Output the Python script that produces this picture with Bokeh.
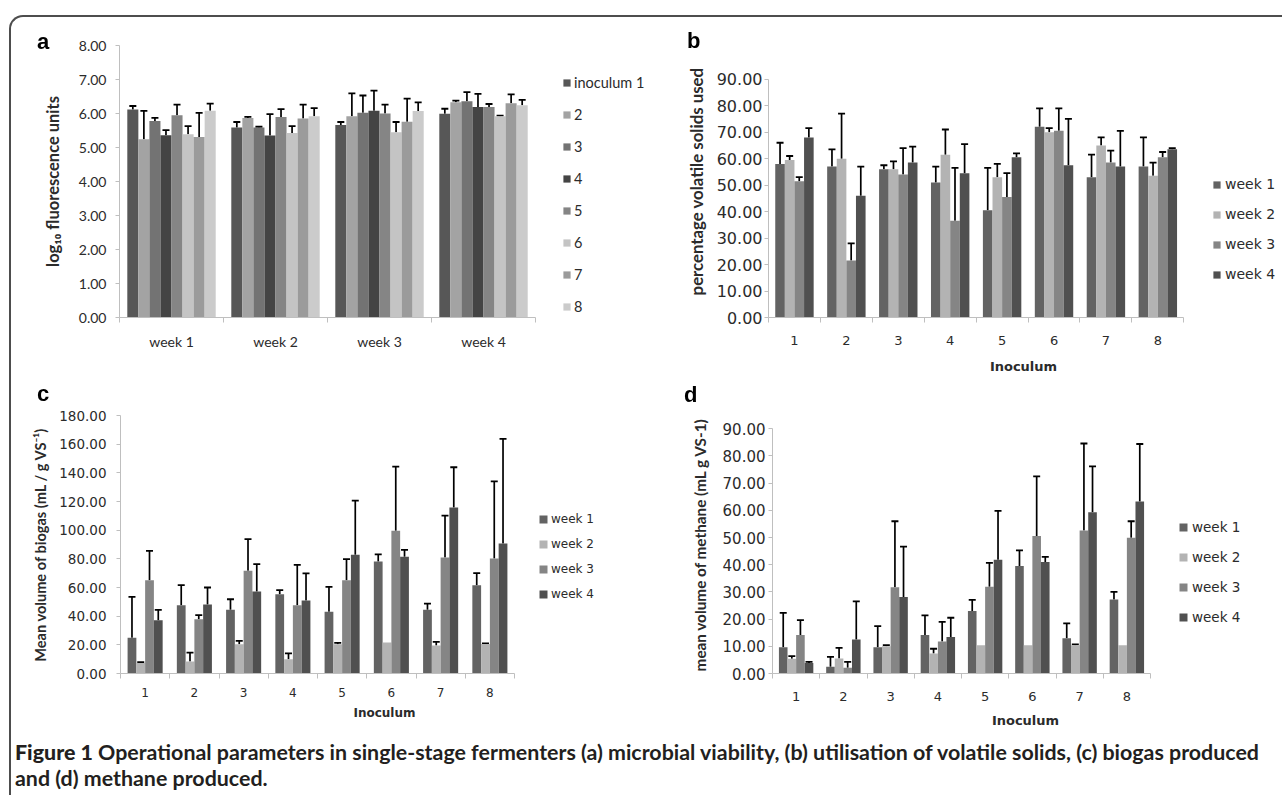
import math
from bokeh.plotting import figure
from bokeh.models import (Range1d, LinearAxis, FixedTicker,
                          NumeralTickFormatter, Whisker, TeeHead, ColumnDataSource, Div)
from bokeh.transform import dodge
from bokeh.layouts import row, column
from bokeh.embed import file_html
from bokeh.resources import INLINE

NAN = float("nan")

# ---------------- data ----------------
weeks = ["week 1", "week 2", "week 3", "week 4"]
inocula = ["1", "2", "3", "4", "5", "6", "7", "8"]

# (a) microbial viability, log10 fluorescence units: one list per inoculum over weeks 1-4
a_names = ["inoculum 1", "2", "3", "4", "5", "6", "7", "8"]
a_mean = [
    [6.12, 5.59, 5.66, 5.99],
    [5.24, 5.87, 5.92, 6.33],
    [5.78, 5.59, 6.02, 6.36],
    [5.36, 5.35, 6.08, 6.19],
    [5.95, 5.90, 6.00, 6.19],
    [5.39, 5.43, 5.45, 5.92],
    [5.31, 5.85, 5.76, 6.30],
    [6.08, 5.92, 6.07, 6.24],
]
a_sd = [
    [0.10, 0.16, 0.09, 0.15],
    [0.84, 0.03, 0.67, 0.05],
    [0.09, 0.02, 0.51, 0.27],
    [0.15, 0.63, 0.59, 0.39],
    [0.31, 0.23, 0.26, 0.09],
    [0.24, 0.20, 0.30, 0.02],
    [0.71, 0.41, 0.68, 0.26],
    [0.21, 0.24, 0.26, 0.16],
]

# (b) percentage volatile solids used: one list per week over inoculum 1-8
b_names = ["week 1", "week 2", "week 3", "week 4"]
b_mean = [
    [58.0, 57.0, 56.0, 51.0, 40.5, 72.0, 53.0, 57.0],
    [59.5, 60.0, 56.0, 61.5, 53.0, 70.0, 65.0, 53.5],
    [51.5, 21.5, 54.0, 36.5, 45.5, 70.5, 58.5, 60.5],
    [68.0, 46.0, 58.5, 54.5, 60.5, 57.5, 57.0, 63.5],
]
b_sd = [
    [8.0, 6.5, 1.5, 6.0, 16.0, 7.0, 8.5, 11.0],
    [1.5, 17.0, 3.0, 9.5, 5.0, 1.5, 3.0, 5.0],
    [1.5, 6.5, 10.0, 20.0, 9.0, 8.5, 4.5, 2.0],
    [3.5, 11.0, 6.0, 11.0, 1.5, 17.5, 13.5, 0.5],
]

# (c) mean volume of biogas (mL / g VS-1)
c_names = ["week 1", "week 2", "week 3", "week 4"]
c_mean = [
    [25.0, 47.7, 44.4, 55.3, 43.0, 78.2, 44.4, 61.6],
    [7.3, 8.3, 20.4, 9.9, 20.4, 21.6, 19.5, 20.5],
    [65.1, 37.9, 71.6, 47.7, 65.1, 99.6, 81.0, 80.3],
    [37.2, 48.1, 57.2, 50.9, 82.8, 81.4, 115.9, 90.7],
]
c_sd = [
    [28.5, 13.9, 7.4, 2.8, 17.5, 4.9, 4.4, 8.4],
    [0.7, 6.3, 2.3, 4.2, 0.9, NAN, 2.5, 0.5],
    [20.5, 2.8, 22.2, 28.1, 14.7, 44.7, 29.1, 53.8],
    [7.2, 11.9, 19.1, 18.9, 37.8, 4.9, 28.0, 73.0],
]

# (d) mean volume of methane (mL g VS-1)
d_names = ["week 1", "week 2", "week 3", "week 4"]
d_mean = [
    [9.7, 2.5, 9.7, 14.2, 23.0, 39.5, 13.0, 27.2],
    [5.4, 5.5, 10.0, 7.4, 10.4, 10.4, 10.4, 10.4],
    [14.2, 2.1, 31.7, 11.8, 31.9, 50.6, 52.6, 49.9],
    [3.9, 12.5, 28.1, 13.4, 41.8, 41.0, 59.3, 63.3],
]
d_sd = [
    [12.6, 3.6, 7.7, 7.2, 4.1, 5.8, 5.4, 2.8],
    [1.0, 3.9, 0.4, 1.7, NAN, NAN, 0.3, NAN],
    [5.4, 2.2, 24.3, 7.2, 8.8, 21.9, 32.0, 6.1],
    [0.4, 14.0, 18.6, 7.1, 18.0, 1.9, 16.9, 21.1],
]

a_colors = ["#575757", "#a3a3a3", "#737373", "#444444", "#858585", "#c4c4c4", "#9b9b9b", "#cbcbcb"]
wk_colors = ["#636363", "#b3b3b3", "#858585", "#505050"]

AX = "#bfbfbf"
TXT = "#2b2b2b"


def build(cats, names, means, sds, colors, xtop, ytop, ymax, ystep, W, H, bl, br, bt, bb, bw, s):
    N = len(cats)
    p = figure(width=W, height=H, x_range=Range1d(0, xtop), y_range=Range1d(0, ytop),
               output_backend="svg", toolbar_location=None,
               x_axis_location=None, y_axis_location=None,
               min_border_left=bl, min_border_right=br, min_border_top=bt, min_border_bottom=bb)
    p.outline_line_color = None
    p.grid.visible = False
    p.background_fill_color = None
    p.border_fill_color = None

    slot = [k + 0.5 for k in range(N)]          # centre of each category slot on the x scale
    n = len(names)
    for i in range(n):
        off = (i - (n - 1) / 2.0) * bw
        src = ColumnDataSource(dict(cat=cats, slot=slot, y=means[i]))
        p.vbar(x=dodge("slot", off), top="y", width=bw, source=src,
               fill_color=colors[i], line_color=None, legend_label=names[i])
        xs, lo, hi = [], [], []
        for c, m, e in zip(slot, means[i], sds[i]):
            if not math.isnan(e):
                xs.append(c); lo.append(m); hi.append(m + e)
        wsrc = ColumnDataSource(dict(slot=xs, lo=lo, hi=hi))
        p.add_layout(Whisker(base=dodge("slot", off), lower="lo", upper="hi", source=wsrc,
                             lower_head=None,
                             upper_head=TeeHead(size=7, line_color="black", line_width=1.8),
                             line_color="black", line_width=1.7))

    yax = LinearAxis(ticker=FixedTicker(ticks=[k * ystep for k in range(int(round(ymax / ystep)) + 1)]),
                     formatter=NumeralTickFormatter(format="0.00"), bounds=(0, ymax))
    yax.axis_line_color = AX
    yax.major_tick_line_color = AX
    yax.major_tick_in = 0
    yax.major_tick_out = 4
    yax.minor_tick_line_color = None
    yax.major_label_text_font = s["tick_font"]
    yax.major_label_text_font_size = s["tick_size"]
    yax.major_label_text_color = TXT
    yax.major_label_standoff = s["tick_standoff"]
    yax.axis_label = s["ylabel"]
    yax.axis_label_text_font = "Lato"
    yax.axis_label_text_font_style = "bold"
    yax.axis_label_text_font_size = s["ylabel_size"]
    yax.axis_label_text_color = TXT
    yax.axis_label_standoff = s["ylabel_standoff"]
    p.add_layout(yax, "left")

    # category axis: labels at category centres, tick marks at category boundaries
    xax = LinearAxis(ticker=FixedTicker(ticks=slot, minor_ticks=list(range(N + 1))),
                     major_label_overrides={c: name for c, name in zip(slot, cats)},
                     bounds=(0, N))
    xax.axis_line_color = AX
    xax.major_tick_line_color = None
    xax.major_tick_in = 0
    xax.major_tick_out = 5
    xax.minor_tick_line_color = AX
    xax.minor_tick_in = 0
    xax.minor_tick_out = 5
    xax.major_label_text_font = s["xtick_font"]
    xax.major_label_text_font_size = s["xtick_size"]
    xax.major_label_text_color = TXT
    xax.major_label_standoff = s["xtick_standoff"]
    if s.get("xlabel"):
        xax.axis_label = s["xlabel"]
        xax.axis_label_text_font = "DejaVu Sans"
        xax.axis_label_text_font_style = "bold"
        xax.axis_label_text_font_size = s["xlabel_size"]
        xax.axis_label_text_color = TXT
        xax.axis_label_standoff = s["xlabel_standoff"]
    p.add_layout(xax, "below")

    lg = p.legend[0]
    lg.location = s["leg_loc"]
    lg.background_fill_alpha = 0
    lg.border_line_color = None
    lg.padding = 0
    lg.margin = 0
    lg.spacing = s["leg_spacing"]
    lg.glyph_width = s["glyph"]
    lg.glyph_height = s["glyph"]
    lg.label_height = 20
    lg.label_standoff = s["leg_standoff"]
    lg.label_text_font = s["leg_font"]
    lg.label_text_font_size = s["leg_size"]
    lg.label_text_color = TXT
    return p


# frame A: x 119..648 (categories end at 535), y 45..317
pa = build(weeks, a_names, a_mean, a_sd, a_colors, 4 * 529 / 416, 8, 8, 1,
           650, 378, 119, 2, 45, 61, 0.10625,
           dict(tick_font="Lato", tick_size="14px", tick_standoff=9,
                ylabel="log\u2081\u2080 fluorescence units", ylabel_size="16.5px", ylabel_standoff=13,
                xtick_font="Lato", xtick_size="14px", xtick_standoff=10,
                leg_loc=(443, 1), leg_spacing=12, glyph=9, leg_standoff=3,
                leg_font="Lato", leg_size="14.5px"))

# frame B: x 768..1278 (categories end at 1183.3), y 45..317 (90 at y=79)
pb = build(inocula, b_names, b_mean, b_sd, wk_colors, 8 * 510 / 415.3, 102.73, 90, 10,
           630, 378, 118, 2, 45, 61, 0.185,
           dict(tick_font="DejaVu Sans", tick_size="16px", tick_standoff=2,
                ylabel="percentage volatile solids used", ylabel_size="16.8px", ylabel_standoff=7,
                xtick_font="DejaVu Sans", xtick_size="13px", xtick_standoff=13,
                xlabel="Inoculum", xlabel_size="13px", xlabel_standoff=11,
                leg_loc=(444, 33), leg_spacing=10, glyph=9, leg_standoff=4,
                leg_font="DejaVu Sans", leg_size="14px"))

# frame C: x 120..648 (categories end at 514), y 415..673
pc = build(inocula, c_names, c_mean, c_sd, wk_colors, 8 * 528 / 394, 180, 180, 20,
           650, 357, 120, 2, 37, 62, 0.178,
           dict(tick_font="DejaVu Sans", tick_size="13.5px", tick_standoff=10,
                ylabel="Mean volume of biogas (mL / g VS\u207b\u00b9)", ylabel_size="14.6px", ylabel_standoff=7,
                xtick_font="DejaVu Sans", xtick_size="12px", xtick_standoff=9,
                xlabel="Inoculum", xlabel_size="12px", xlabel_standoff=6,
                leg_loc=(418, 69), leg_spacing=5, glyph=10, leg_standoff=3,
                leg_font="DejaVu Sans", leg_size="12px"))

# frame D: x 772..1278 (categories end at 1150), y 415..673 (90 at y=428)
pd_ = build(inocula, d_names, d_mean, d_sd, wk_colors, 8 * 506 / 378, 94.89, 90, 10,
            630, 357, 122, 2, 37, 62, 0.182,
            dict(tick_font="DejaVu Sans", tick_size="15px", tick_standoff=3,
                 ylabel="mean volume of methane (mL g VS-1)", ylabel_size="15.3px", ylabel_standoff=11,
                 xtick_font="DejaVu Sans", xtick_size="13px", xtick_standoff=13,
                 xlabel="Inoculum", xlabel_size="13px", xlabel_standoff=9,
                 leg_loc=(406, 46), leg_spacing=10, glyph=10, leg_standoff=4,
                 leg_font="DejaVu Sans", leg_size="13.5px"))

letter_css = ("position: fixed; font-family: 'Liberation Sans', Arial, sans-serif; font-weight: 700; "
              "font-size: 22px; line-height: 22px; color: #000;")
letters = "".join(
    f'<div style="{letter_css} left: {x}px; top: {y}px;">{t}</div>'
    for t, x, y in [("a", 37, 30.5), ("b", 687, 29.5), ("c", 37, 382.5), ("d", 684, 383.5)]
)
frame_box = ('<div style="position: fixed; left: 9px; top: 15px; width: 2000px; height: 2000px; '
             'border-top: 2px solid #4d4d4d; border-left: 2px solid #4d4d4d; '
             'border-top-left-radius: 14px; pointer-events: none;"></div>')

caption = Div(
    text=(frame_box + letters +
          '<div style="font-family: Lato, \'Liberation Sans\', sans-serif; font-weight: 700; '
          'font-size: 21.4px; line-height: 26px; color: #231f20; padding: 4px 0 0 15px; white-space: nowrap;">'
          '<span style="font-weight: 900;">Figure 1</span> Operational parameters in single-stage fermenters '
          '(a) microbial viability, (b) utilisation of volatile solids, (c) biogas produced<br>'
          'and (d) methane produced.</div>'),
    width=1280, height=54, margin=0, styles={"overflow": "visible"})

layout = column(row(pa, pb), row(pc, pd_), caption)

open("out.html", "w").write(file_html(layout, INLINE))
